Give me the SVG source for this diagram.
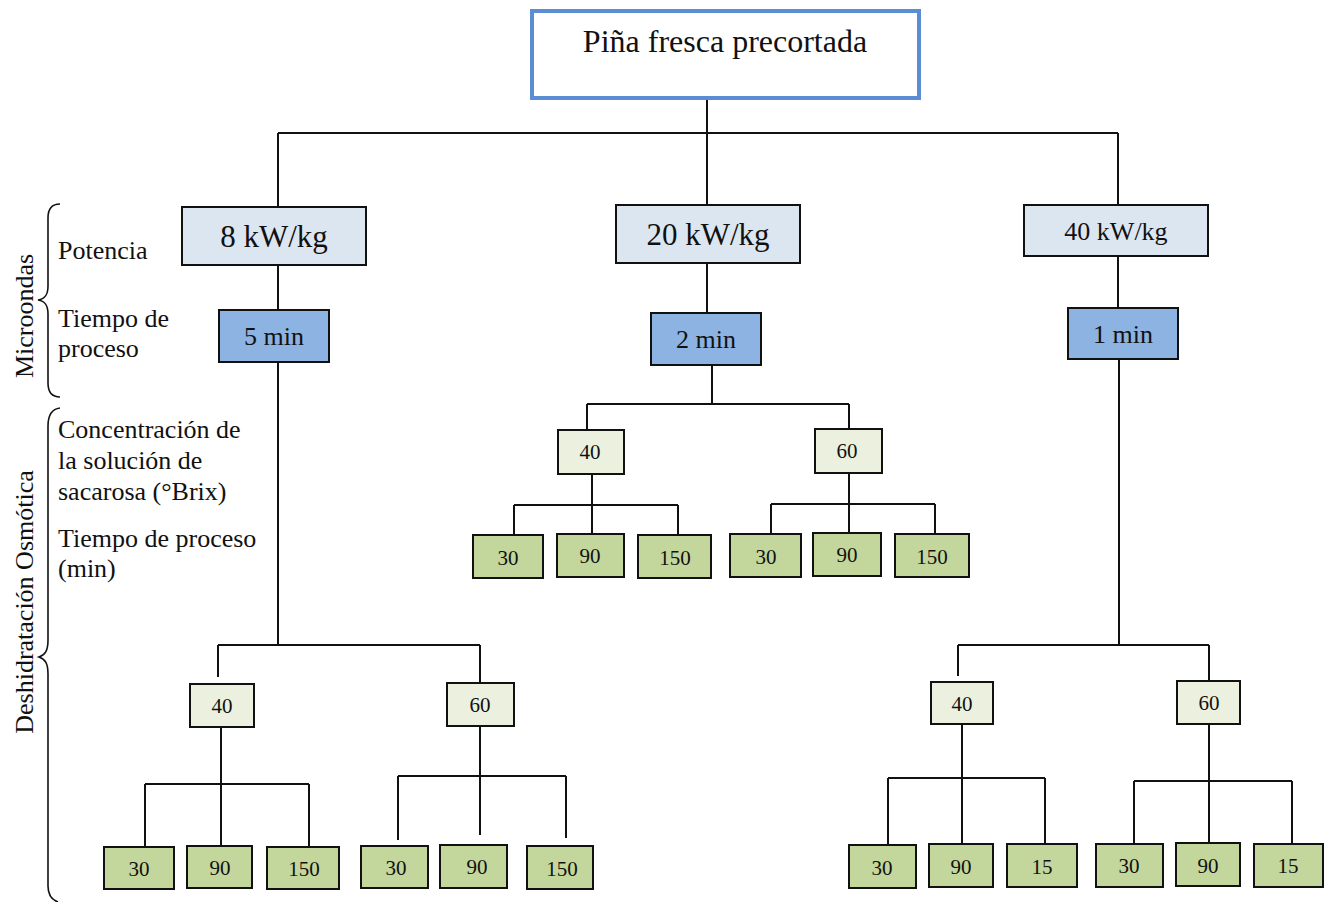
<svg xmlns="http://www.w3.org/2000/svg" width="1332" height="902" viewBox="0 0 1332 902">
  <style>
    text { font-family: 'Liberation Serif', 'Times New Roman', serif; fill: #111; }
    .c { text-anchor: middle; }
    .root { fill: #fff; stroke: #5B8DD5; stroke-width: 4; }
    .pow { fill: #DCE6F1; stroke: #111; stroke-width: 2; }
    .time { fill: #8DB3E2; stroke: #111; stroke-width: 2; }
    .conc { fill: #EBF1DE; stroke: #111; stroke-width: 2; }
    .leaf { fill: #C3D69B; stroke: #111; stroke-width: 2; }
    .wire { fill: none; stroke: #111; stroke-width: 2; }
    .brace { fill: none; stroke: #111; stroke-width: 1.6; }
    .lbl { font-size: 26px; }
    .num { font-size: 21px; }
  </style>
  <rect width="1332" height="902" fill="#fff"/>

  <!-- connectors -->
  <g id="connectors" class="wire">
    <path d="M707 95 V133 M278 133 H1118 M278 133 V207 M707 133 V205 M1118 133 V214"/>
    <path d="M278 265 V310 M707 263 V313 M1118 256 V308"/>
    <!-- 8 kW/kg branch -->
    <path d="M278 362 V645 M218 645 H480 M218 645 V677 M480 645 V683"/>
    <path d="M221 727 V851 M145 784 H309 M145 784 V852 M309 784 V855"/>
    <path d="M480 726 V835 M398 776 H566 M398 776 V840 M566 776 V838"/>
    <!-- 20 kW/kg branch -->
    <path d="M712 365 V404 M587 404 H849 M587 404 V430 M849 404 V429"/>
    <path d="M592 474 V542 M514 505 H678 M514 505 V545 M678 505 V544"/>
    <path d="M849 473 V532 M771 504 H935 M771 504 V545 M935 504 V543"/>
    <!-- 40 kW/kg branch -->
    <path d="M1119 359 V645 M958 645 H1209 M958 645 V676 M1209 645 V681"/>
    <path d="M962 724 V843 M888 778 H1045 M888 778 V848 M1045 778 V844"/>
    <path d="M1209 724 V849 M1134 781 H1292 M1134 781 V851 M1292 781 V852"/>
  </g>

  <!-- root -->
  <g id="node-root">
    <rect class="root" x="532" y="11" width="387" height="87"/>
    <text class="c" x="725" y="52" font-size="32">Piña fresca precortada</text>
  </g>

  <!-- power level -->
  <g id="node-8kw">
    <rect class="pow" x="182" y="207" width="184" height="58"/>
    <text class="c" x="274" y="247" font-size="31">8 kW/kg</text>
  </g>
  <g id="node-20kw">
    <rect class="pow" x="616" y="205" width="184" height="58"/>
    <text class="c" x="708" y="245" font-size="31">20 kW/kg</text>
  </g>
  <g id="node-40kw">
    <rect class="pow" x="1024" y="205" width="184" height="51"/>
    <text class="c" x="1116" y="240" font-size="26">40 kW/kg</text>
  </g>

  <!-- microwave time -->
  <g id="node-5min">
    <rect class="time" x="219" y="310" width="110" height="52"/>
    <text class="c" x="274" y="345" font-size="26">5 min</text>
  </g>
  <g id="node-2min">
    <rect class="time" x="651" y="313" width="110" height="52"/>
    <text class="c" x="706" y="348" font-size="26">2 min</text>
  </g>
  <g id="node-1min">
    <rect class="time" x="1068" y="308" width="110" height="51"/>
    <text class="c" x="1123" y="343" font-size="26">1 min</text>
  </g>

  <!-- sucrose concentration -->
  <g id="node-a40"><rect class="conc" x="190" y="684" width="64" height="43"/><text class="c num" x="222" y="713">40</text></g>
  <g id="node-a60"><rect class="conc" x="447" y="683" width="67" height="43"/><text class="c num" x="480" y="712">60</text></g>
  <g id="node-b40"><rect class="conc" x="558" y="430" width="66" height="44"/><text class="c num" x="590" y="459">40</text></g>
  <g id="node-b60"><rect class="conc" x="815" y="429" width="67" height="44"/><text class="c num" x="847" y="458">60</text></g>
  <g id="node-c40"><rect class="conc" x="931" y="682" width="62" height="42"/><text class="c num" x="962" y="711">40</text></g>
  <g id="node-c60"><rect class="conc" x="1177" y="681" width="63" height="43"/><text class="c num" x="1209" y="710">60</text></g>

  <!-- osmotic time leaves -->
  <g id="node-a40-30"><rect class="leaf" x="104" y="847" width="70" height="42"/><text class="c num" x="139" y="876">30</text></g>
  <g id="node-a40-90"><rect class="leaf" x="187" y="846" width="65" height="42"/><text class="c num" x="220" y="875">90</text></g>
  <g id="node-a40-150"><rect class="leaf" x="267" y="847" width="72" height="42"/><text class="c num" x="304" y="876">150</text></g>
  <g id="node-a60-30"><rect class="leaf" x="361" y="846" width="67" height="42"/><text class="c num" x="396" y="875">30</text></g>
  <g id="node-a60-90"><rect class="leaf" x="440" y="845" width="67" height="43"/><text class="c num" x="477" y="874">90</text></g>
  <g id="node-a60-150"><rect class="leaf" x="527" y="846" width="66" height="43"/><text class="c num" x="562" y="876">150</text></g>

  <g id="node-b40-30"><rect class="leaf" x="473" y="535" width="70" height="43"/><text class="c num" x="508" y="565">30</text></g>
  <g id="node-b40-90"><rect class="leaf" x="557" y="534" width="67" height="43"/><text class="c num" x="590" y="563">90</text></g>
  <g id="node-b40-150"><rect class="leaf" x="638" y="535" width="73" height="43"/><text class="c num" x="675" y="565">150</text></g>
  <g id="node-b60-30"><rect class="leaf" x="730" y="534" width="71" height="43"/><text class="c num" x="766" y="564">30</text></g>
  <g id="node-b60-90"><rect class="leaf" x="813" y="533" width="68" height="43"/><text class="c num" x="847" y="562">90</text></g>
  <g id="node-b60-150"><rect class="leaf" x="895" y="534" width="74" height="43"/><text class="c num" x="932" y="564">150</text></g>

  <g id="node-c40-30"><rect class="leaf" x="849" y="845" width="67" height="43"/><text class="c num" x="882" y="875">30</text></g>
  <g id="node-c40-90"><rect class="leaf" x="929" y="844" width="64" height="43"/><text class="c num" x="961" y="874">90</text></g>
  <g id="node-c40-15"><rect class="leaf" x="1007" y="844" width="70" height="43"/><text class="c num" x="1042" y="874">15</text></g>
  <g id="node-c60-30"><rect class="leaf" x="1096" y="844" width="67" height="43"/><text class="c num" x="1129" y="873">30</text></g>
  <g id="node-c60-90"><rect class="leaf" x="1176" y="843" width="64" height="43"/><text class="c num" x="1208" y="873">90</text></g>
  <g id="node-c60-15"><rect class="leaf" x="1254" y="844" width="69" height="43"/><text class="c num" x="1288" y="873">15</text></g>

  <!-- stage labels and braces -->
  <g id="legend-microondas">
    <path class="brace" d="M60 204 C52 204 48 208 48 218 L48 286 C48 295 45 299 38 300 C45 301 48 305 48 314 L48 383 C48 393 52 397 60 397"/>
    <text class="c lbl" transform="translate(33 316) rotate(-90)">Microondas</text>
    <text class="lbl" x="58" y="259">Potencia</text>
    <text class="lbl" x="58" y="327">Tiempo de</text>
    <text class="lbl" x="58" y="357">proceso</text>
  </g>
  <g id="legend-osmotica">
    <path class="brace" d="M60 408 C52 409 48 414 48 426 L48 640 C48 651 45 655 39 657 C45 659 48 663 48 674 L48 886 C48 896 52 900 58 902"/>
    <text class="c lbl" transform="translate(33 602) rotate(-90)">Deshidratación Osmótica</text>
    <text class="lbl" x="58" y="438">Concentración de</text>
    <text class="lbl" x="58" y="469">la solución de</text>
    <text class="lbl" x="58" y="500">sacarosa (°Brix)</text>
    <text class="lbl" x="58" y="547">Tiempo de proceso</text>
    <text class="lbl" x="58" y="577">(min)</text>
  </g>
</svg>
